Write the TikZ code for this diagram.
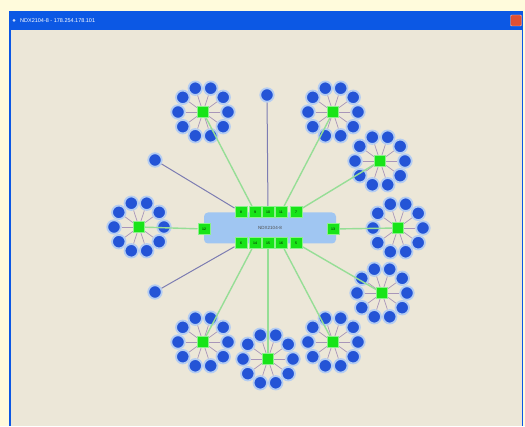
\documentclass[tikz,border=0pt]{standalone}
\usepackage{fontspec}
\setmainfont{Liberation Sans}
\usetikzlibrary{positioning,calc}
\definecolor{deskbg}{RGB}{255,251,220}
\definecolor{winbg}{RGB}{236,231,216}
\definecolor{titleblue}{RGB}{12,88,228}
\definecolor{hostblue}{RGB}{160,198,242}
\definecolor{portgreen}{RGB}{24,228,24}
\definecolor{linkgreen}{RGB}{150,222,150}
\definecolor{nodeblue}{RGB}{36,84,214}
\definecolor{halo}{RGB}{180,205,242}
\definecolor{spoke}{RGB}{168,150,185}
\definecolor{trunk}{RGB}{125,125,178}
\definecolor{closered}{RGB}{225,80,50}

\begin{document}
\begin{tikzpicture}[
  x=1pt,y=-1pt,
  host/.style={fill=hostblue,rounded corners=4pt,minimum width=132pt,
               minimum height=31pt,inner sep=0pt,font=\fontsize{4.5}{5}\selectfont,
               text=black!70},
  port/.style={fill=portgreen,draw=portgreen!50!white,line width=1pt,
               minimum width=12pt,minimum height=11pt,inner sep=0pt,
               font=\fontsize{3.5}{4}\selectfont},
  hub/.style={port,minimum width=11pt,minimum height=11pt},
  leaf/.style={circle,fill=nodeblue,draw=halo,line width=1.8pt,
               minimum size=13.5pt,inner sep=0pt},
  link/.style={linkgreen,line width=1.4pt},
  spokeline/.style={spoke,line width=0.7pt},
  trunkline/.style={trunk,line width=1pt}
]
% window frame
\fill[deskbg] (0,0) rectangle (525,426);
\fill[winbg] (9,30) rectangle (523,426);
\fill[titleblue] (9,11) rectangle (523,30);
\draw[titleblue,line width=2pt] (10,30) -- (10,426);
\draw[titleblue,line width=1pt] (522.5,30) -- (522.5,426);
\node[anchor=west,text=white,font=\fontsize{5.5}{6}\selectfont,inner sep=0pt]
  (title) at (20,20.5) {NDX2104-8 - 178.254.178.101};
\node[circle,fill=white!80!titleblue,minimum size=3pt,inner sep=0pt] (icon) at (14,20.5) {};
\node[fill=closered,draw=white!70!closered,rounded corners=1pt,minimum size=11pt,
      inner sep=0pt] (close) at (516,20.5) {};

% switch and its ports
\node[host] (sw) at (270,228) {NDX2104-8};
\node[port] (p8)  at (241,212) {8};
\node[port] (p9)  at (255,212) {9};
\node[port] (p10) at (268,212) {10};
\node[port] (p11) at (281,212) {11};
\node[port] (p7)  at (296,212) {7};
\node[port] (p6)  at (241,243) {6};
\node[port] (p14) at (255,243) {14};
\node[port] (p15) at (268,243) {15};
\node[port] (p16) at (281,243) {16};
\node[port] (p5)  at (296,243) {5};
\node[port] (p12) at (204,229) {12};
\node[port] (p13) at (333,229) {13};

% single stations
\node[leaf] (s1) at (267,95) {};
\node[leaf] (s2) at (155,160) {};
\node[leaf] (s3) at (155,292) {};

% hubs with ten stations each
\foreach \hname/\hx/\hy in {A/203/112,B/333/112,C/380/161,D/398/228,E/382/293,
                            F/333/342,G/268/359,H/203/342,I/139/227}{
  \node[hub] (\hname) at (\hx,\hy) {};
  \foreach \k in {0,...,9}{
    \node[leaf] (\hname-\k) at ($(\hname)+(\k*36:25pt)$) {};
    \draw[spokeline] (\hname) -- (\hname-\k);
  }
}

% links
\draw[link] (A) -- (p9);
\draw[link] (B) -- (p11);
\draw[link] (C) -- (p7);
\draw[link] (D) -- (p13);
\draw[link] (E) -- (p5);
\draw[link] (F) -- (p16);
\draw[link] (G) -- (p15);
\draw[link] (H) -- (p14);
\draw[link] (I) -- (p12);
\draw[trunkline] (s1) -- (p10);
\draw[trunkline] (s2) -- (p8);
\draw[trunkline] (s3) -- (p6);
\end{tikzpicture}
\end{document}
